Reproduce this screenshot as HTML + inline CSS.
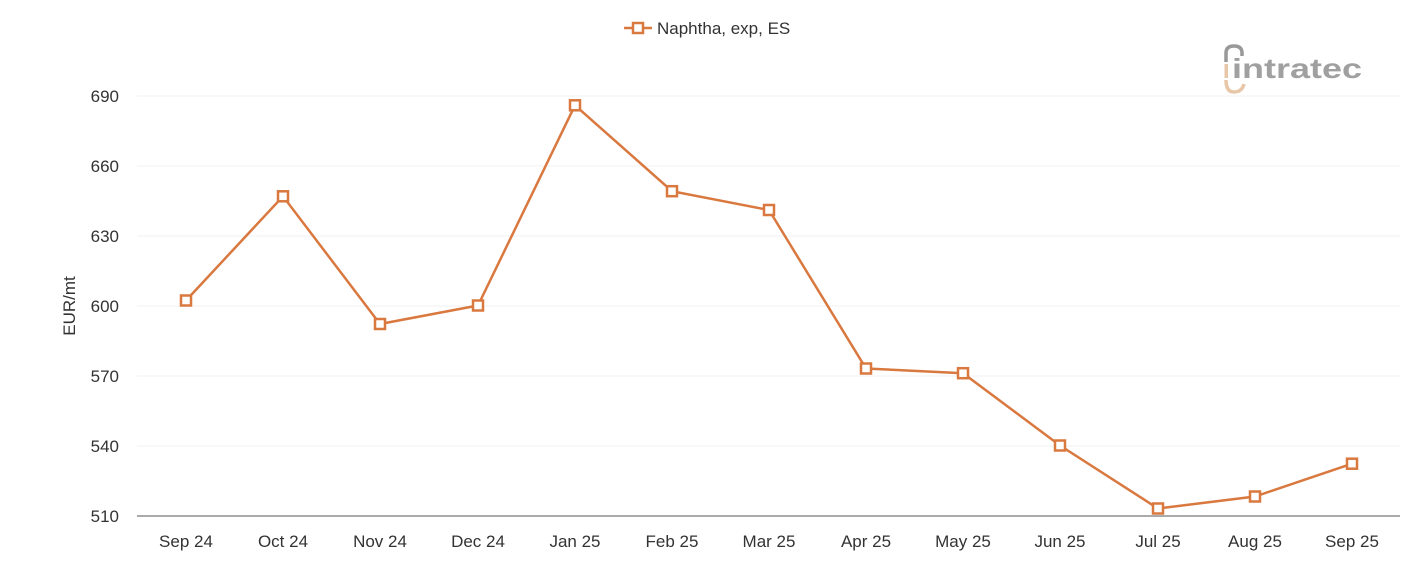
<!DOCTYPE html>
<html><head><meta charset="utf-8"><style>
html,body{margin:0;padding:0;background:#fff;}
svg{display:block;font-family:"Liberation Sans",sans-serif;}
</style></head><body>
<svg width="1401" height="561" viewBox="0 0 1401 561" xmlns="http://www.w3.org/2000/svg">
<g stroke="#f0f0f0" stroke-width="1">
<line x1="137" y1="96" x2="1400" y2="96"/>
<line x1="137" y1="166" x2="1400" y2="166"/>
<line x1="137" y1="236" x2="1400" y2="236"/>
<line x1="137" y1="306" x2="1400" y2="306"/>
<line x1="137" y1="376" x2="1400" y2="376"/>
<line x1="137" y1="446" x2="1400" y2="446"/>
</g>
<line x1="137" y1="516" x2="1400" y2="516" stroke="#555" stroke-width="1"/>
<g font-size="17" fill="#333" text-anchor="end">
<text x="119" y="102">690</text>
<text x="119" y="172">660</text>
<text x="119" y="242">630</text>
<text x="119" y="312">600</text>
<text x="119" y="382">570</text>
<text x="119" y="452">540</text>
<text x="119" y="522">510</text>
</g>
<text transform="translate(75,306) rotate(-90)" font-size="17" fill="#333" text-anchor="middle">EUR/mt</text>
<g font-size="17" fill="#333" text-anchor="middle">
<text x="186" y="547">Sep 24</text>
<text x="283" y="547">Oct 24</text>
<text x="380" y="547">Nov 24</text>
<text x="478" y="547">Dec 24</text>
<text x="575" y="547">Jan 25</text>
<text x="672" y="547">Feb 25</text>
<text x="769" y="547">Mar 25</text>
<text x="866" y="547">Apr 25</text>
<text x="963" y="547">May 25</text>
<text x="1060" y="547">Jun 25</text>
<text x="1158" y="547">Jul 25</text>
<text x="1255" y="547">Aug 25</text>
<text x="1352" y="547">Sep 25</text>
</g>
<polyline fill="none" stroke="#d9783f" stroke-width="2.5" points="186,300.5 283,196.3 380,324 478,305.5 575,105.3 672,191.2 769,210 866,368.5 963,373.2 1060,445.5 1158,508.5 1255,496.5 1352,463.7"/>
<g fill="#fff" stroke="#d9783f" stroke-width="2.5">
<rect x="181" y="295.5" width="10" height="10"/>
<rect x="278" y="191.3" width="10" height="10"/>
<rect x="375" y="319" width="10" height="10"/>
<rect x="473" y="300.5" width="10" height="10"/>
<rect x="570" y="100.3" width="10" height="10"/>
<rect x="667" y="186.2" width="10" height="10"/>
<rect x="764" y="205" width="10" height="10"/>
<rect x="861" y="363.5" width="10" height="10"/>
<rect x="958" y="368.2" width="10" height="10"/>
<rect x="1055" y="440.5" width="10" height="10"/>
<rect x="1153" y="503.5" width="10" height="10"/>
<rect x="1250" y="491.5" width="10" height="10"/>
<rect x="1347" y="458.7" width="10" height="10"/>
</g>
<line x1="624" y1="28" x2="652" y2="28" stroke="#d9783f" stroke-width="2.5"/>
<rect x="633" y="23" width="10" height="10" fill="#fff" stroke="#d9783f" stroke-width="2.5"/>
<text x="657" y="34" font-size="17" fill="#333">Naphtha, exp, ES</text>
<g>
<path d="M1226,62 V53 Q1226,46 1234,46 Q1242,46 1242,53 V56" fill="none" stroke="#999" stroke-width="3.5"/>
<path d="M1226,80 Q1226,92 1234,92 Q1242,92 1244,84" fill="none" stroke="#e8c6a8" stroke-width="3.5"/>
<rect x="1224.5" y="64" width="3.5" height="14" fill="#e8c6a8"/>
<text x="1232" y="78" font-size="28" fill="#a0a0a0" font-weight="bold" textLength="130" lengthAdjust="spacingAndGlyphs">intratec</text>
</g>
</svg>
</body></html>
